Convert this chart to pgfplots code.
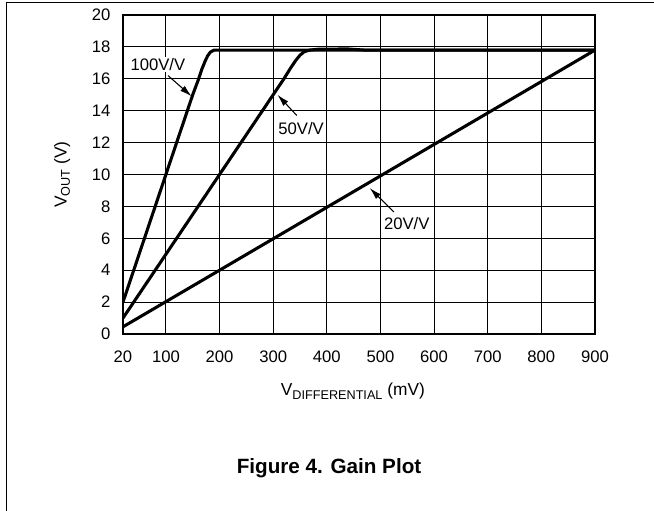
\documentclass[border=0pt]{standalone}
\usepackage{fontspec}
\setmainfont{Liberation Sans}
\usepackage{pgfplots}
\pgfplotsset{compat=1.18}
\usetikzlibrary{arrows.meta}

% gain curves
\pgfplotstableread{
x    y
20   2.0
100  10.0
150  15.0
160  15.9
167  16.6
173  17.1
178  17.45
183  17.68
190  17.8
900  17.8
}\gainhundred
\pgfplotstableread{
x    y
20   1.0
100  5.0
200  10.0
300  15.0
320  16.0
332  16.65
342  17.15
350  17.48
358  17.7
368  17.8
385  17.86
440  17.87
470  17.8
900  17.8
}\gainfifty
\pgfplotstableread{
x    y
20   0.45
900  17.8
}\gaintwenty

\newcommand{\sub}[1]{\raisebox{-0.35ex}{\fontsize{9.5}{10}\selectfont #1}}

\begin{document}
\begin{tikzpicture}
  \useasboundingbox (0,0) rectangle (490.5pt,-383.25pt);
  % page frame lines
  \draw[line width=1pt] (4.875pt,-383.25pt) -- (4.875pt,-1.875pt) -- (490.5pt,-1.875pt);

  \begin{axis}[%
    at={(92.25pt,-250.5pt)}, anchor=south west,
    scale only axis,
    width=354pt, height=239.25pt,
    xmin=20, xmax=900, ymin=0, ymax=20,
    xtick={20,100,200,300,400,500,600,700,800,900},
    ytick={0,2,...,20},
    major tick length=0pt,
    grid=major,
    grid style={black, line width=0.75pt},
    axis line style={line width=2pt},
    tick label style={font=\fontsize{12.5}{14}\selectfont},
    /pgf/number format/assume math mode=true,
    xticklabel style={yshift=-9pt},
    yticklabel style={xshift=-6pt},
    xlabel={V\sub{DIFFERENTIAL} (mV)},
    ylabel={V\sub{OUT} (V)},
    label style={font=\fontsize{13}{14}\selectfont},
    xlabel style={at={(rel axis cs:0.487,-0.18)}, anchor=center},
    ylabel style={at={(rel axis cs:-0.129,0.5)}, anchor=center},
    ]
    \addplot[black, line width=2.3pt, line join=round] table {\gaintwenty};
    \addplot[black, line width=2.3pt, line join=round] table {\gainfifty};
    \addplot[black, line width=2.3pt, line join=round] table {\gainhundred};

    % annotations
    \node[fill=white, inner sep=1pt, font=\fontsize{12.5}{14}\selectfont] at (85,16.9) {100V/V};
    \draw[line width=0.8pt, -{Latex[length=9pt,width=5pt]}] (104,16.2) -- (148,14.9);
    \node[fill=white, inner sep=1pt, font=\fontsize{12.5}{14}\selectfont] at (352,12.9) {50V/V};
    \draw[line width=0.8pt, -{Latex[length=9pt,width=5pt]}] (344,13.7) -- (308,15.0);
    \node[inner sep=1pt, font=\fontsize{12.5}{14}\selectfont] at (549,6.9) {20V/V};
    \draw[line width=0.8pt, -{Latex[length=9pt,width=5pt]}] (525,7.65) -- (480,9.15);
  \end{axis}

  \node[font=\bfseries\fontsize{15.5}{18}\selectfont] at (246.75pt,-351pt) {Figure 4. Gain Plot};
\end{tikzpicture}
\end{document}
